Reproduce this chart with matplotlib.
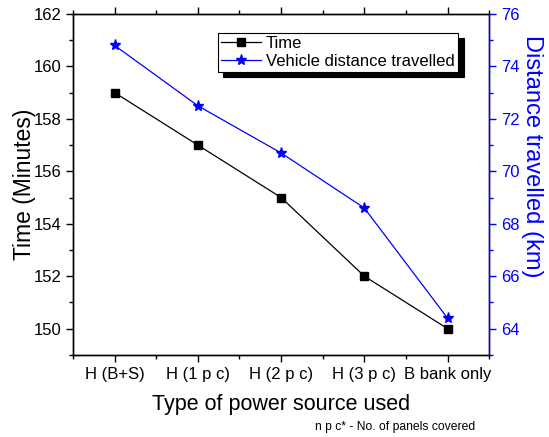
import numpy as np
import matplotlib
matplotlib.use("Agg")
import matplotlib.pyplot as plt

plt.rcParams['font.family'] = ['Liberation Sans', 'DejaVu Sans']

categories = ["H (B+S)", "H (1 p c)", "H (2 p c)", "H (3 p c)", "B bank only"]
timeMinutes = [159, 157, 155, 152, 150]
distanceKm = [74.8, 72.5, 70.7, 68.6, 64.4]

xPos = np.arange(len(categories))

fig = plt.figure(figsize=(5.49, 4.37), dpi=100)
ax = fig.add_axes([0.133, 0.188, 0.758, 0.780])
ax2 = ax.twinx()

lineTime, = ax.plot(xPos, timeMinutes, color="black", marker="s", markersize=6,
                    linewidth=0.9, label="Time")
lineDist, = ax2.plot(xPos, distanceKm, color="blue", marker="*", markersize=8,
                     linewidth=0.9, label="Vehicle distance travelled")

ax.set_xlim(-0.5, 4.5)
ax.set_ylim(149, 162)
ax2.set_ylim(63, 76)

ax.set_xticks(xPos)
ax.set_xticklabels(categories)
ax.set_xticks(np.arange(-0.5, 4.6, 1.0), minor=True)
ax.set_yticks(np.arange(150, 163, 2))
ax.set_yticks(np.arange(149, 162.1, 1), minor=True)
ax2.set_yticks(np.arange(64, 77, 2))
ax2.set_yticks(np.arange(63, 76.1, 1), minor=True)

ax.tick_params(axis="both", which="major", labelsize=12, length=5, width=1)
ax.tick_params(axis="both", which="minor", length=3, width=1)
ax.tick_params(axis="x", which="both", top=True)
ax2.tick_params(axis="y", which="major", labelsize=12, length=5, width=1,
                colors="blue")
ax2.tick_params(axis="y", which="minor", length=3, width=1, colors="blue")

for sp in ax.spines.values():
    sp.set_linewidth(1.0)
for sp in ax2.spines.values():
    sp.set_linewidth(1.0)
ax2.spines["right"].set_color("blue")

ax.set_ylabel("Time (Minutes)", fontsize=16.5, labelpad=-2)
ax2.set_ylabel("Distance travelled (km)", fontsize=17, color="blue",
               rotation=270, labelpad=17)
ax2.yaxis.label.set_y(0.584)
ax.set_xlabel("Type of power source used", fontsize=15.5, labelpad=9)

leg = ax.legend([lineTime, lineDist], ["Time", "Vehicle distance travelled"],
                loc="upper right", bbox_to_anchor=(0.925, 0.945), fontsize=12,
                frameon=True, fancybox=False, framealpha=1, edgecolor="black",
                shadow={"color": "black", "alpha": 1, "ox": 4, "oy": -4},
                borderpad=0.2, handlelength=2.4, handletextpad=0.3,
                labelspacing=0.15, borderaxespad=0)
leg.get_frame().set_linewidth(0.8)

fig.text(0.573, 0.016, "n p c* - No. of panels covered", fontsize=8.7)

fig.savefig("out.png", dpi=100)
